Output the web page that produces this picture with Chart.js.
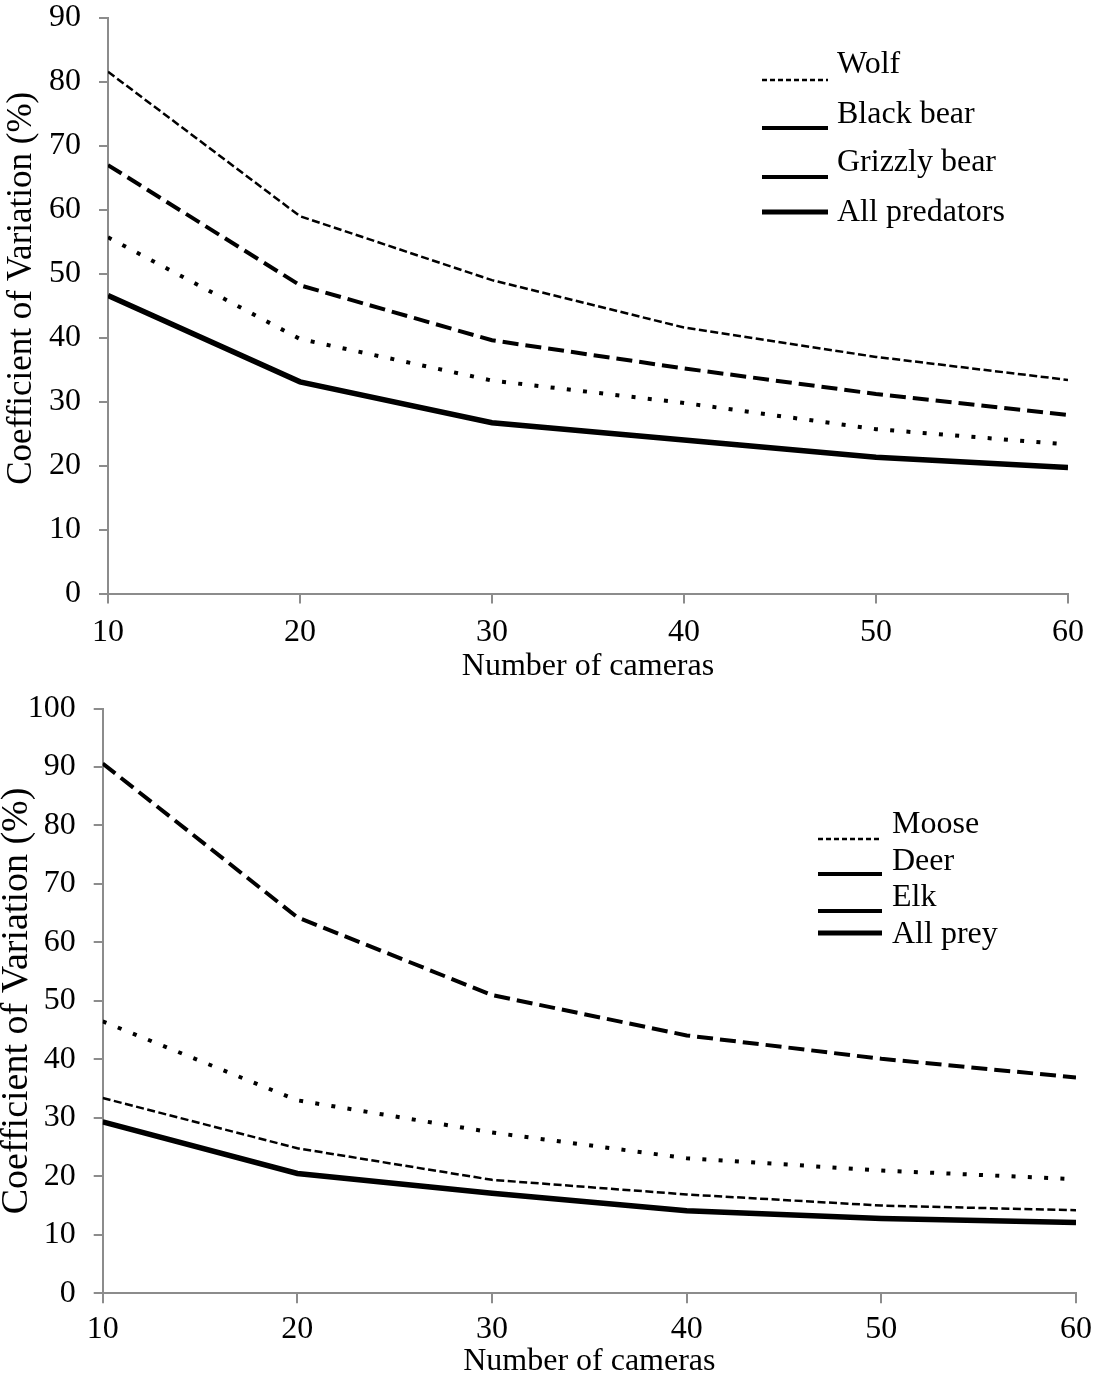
<!DOCTYPE html>
<html>
<head>
<meta charset="utf-8">
<title>Coefficient of variation by number of cameras</title>
<script src="https://cdn.jsdelivr.net/npm/chart.js@4.4.1/dist/chart.umd.min.js"></script>
<style>
    html, body { margin: 0; padding: 0; background: #ffffff; }
    .panel { position: relative; width: 1094px; height: 690px; }
</style>
</head>
<body>
<div class="panel"><canvas id="predatorChart"></canvas></div>
<div class="panel"><canvas id="preyChart"></canvas></div>

<script>
// Number of cameras on the x axis
const cameras = [10, 20, 30, 40, 50, 60];

// Predators - coefficient of variation (%)
const predatorLabels = ['Wolf', 'Black bear', 'Grizzly bear', 'All predators'];
const wolfCV = [81.6, 59.0, 49.0, 41.6, 37.0, 33.4];
const blackBearCV = [67.0, 48.2, 39.6, 35.2, 31.2, 27.9];
const grizzlyBearCV = [55.7, 39.8, 33.3, 29.8, 25.7, 23.3];
const allPredatorsCV = [46.6, 33.1, 26.7, 24.0, 21.3, 19.7];

// Prey - coefficient of variation (%)
const preyLabels = ['Moose', 'Deer', 'Elk', 'All prey'];
const mooseCV = [33.4, 24.8, 19.4, 16.9, 15.0, 14.2];
const deerCV = [90.6, 64.3, 51.0, 44.1, 40.1, 36.9];
const elkCV = [46.5, 33.0, 27.5, 23.1, 21.0, 19.5];
const allPreyCV = [29.3, 20.5, 17.1, 14.1, 12.8, 12.1];

// Axis ticks
const xTicks = [10, 20, 30, 40, 50, 60];
const predatorYTicks = [0, 10, 20, 30, 40, 50, 60, 70, 80, 90];
const preyYTicks = [0, 10, 20, 30, 40, 50, 60, 70, 80, 90, 100];

const FONT = '"Liberation Serif", "Times New Roman", serif';
const AXIS_GREY = '#8c8c8c';

// Line styles, same order in both panels
const lineStyles = [
    { width: 2.5, dash: [8, 3.5] },   // fine dashes
    { width: 4, dash: [16, 7] },      // long dashes
    { width: 4, dash: [4, 12.3] },    // square dots
    { width: 5.5, dash: [] }          // solid
];

function toPoints(values) {
    return values.map((v, i) => ({ x: cameras[i], y: v }));
}

function buildDatasets(labels, series) {
    return series.map((values, i) => ({
        label: labels[i],
        data: toPoints(values),
        borderColor: '#000000',
        borderWidth: lineStyles[i].width,
        borderDash: lineStyles[i].dash,
        borderCapStyle: 'butt',
        borderJoinStyle: 'miter',
        pointRadius: 0,
        tension: 0,
        fill: false
    }));
}

// Legend drawn as text + sample line, rows given in the plugin options
const sampleLegend = {
    id: 'sampleLegend',
    afterDraw(chart, args, opts) {
        const ctx = chart.ctx;
        ctx.save();
        ctx.font = '32px ' + FONT;
        ctx.fillStyle = '#000000';
        ctx.textAlign = 'left';
        ctx.textBaseline = 'middle';
        chart.data.datasets.forEach((ds, i) => {
            const row = opts.rows[i];
            ctx.strokeStyle = '#000000';
            ctx.lineWidth = row.width;
            ctx.lineCap = 'butt';
            ctx.setLineDash(row.dash);
            ctx.beginPath();
            ctx.moveTo(opts.sampleX, row.lineY);
            ctx.lineTo(opts.sampleX + opts.sampleLen, row.lineY);
            ctx.stroke();
            ctx.setLineDash([]);
            ctx.fillText(ds.label, opts.textX, row.textY);
        });
        ctx.restore();
    }
};

function makeChart(canvasId, labels, series, yTicks, layout) {
    const yMax = yTicks[yTicks.length - 1];
    return new Chart(document.getElementById(canvasId), {
        type: 'line',
        data: { datasets: buildDatasets(labels, series) },
        options: {
            responsive: true,
            maintainAspectRatio: false,
            animation: false,
            layout: { padding: layout.padding },
            plugins: {
                legend: { display: false },
                tooltip: { enabled: false },
                sampleLegend: layout.legend
            },
            scales: {
                x: {
                    type: 'linear',
                    min: xTicks[0],
                    max: xTicks[xTicks.length - 1],
                    afterBuildTicks: (scale) => { scale.ticks = xTicks.map(v => ({ value: v })); },
                    afterFit: (scale) => {
                        scale.height = layout.xHeight;
                        scale.paddingLeft = 0;
                        scale.paddingRight = 0;
                    },
                    grid: { drawOnChartArea: false, drawTicks: true, tickLength: 10, color: AXIS_GREY, lineWidth: 2 },
                    border: { display: true, color: AXIS_GREY, width: 2 },
                    ticks: { color: '#000000', font: { family: FONT, size: 32 }, padding: layout.xTickPad, maxRotation: 0 },
                    title: {
                        display: true,
                        text: 'Number of cameras',
                        color: '#000000',
                        font: { family: FONT, size: 32 },
                        padding: { top: 0, bottom: layout.xTitlePad }
                    }
                },
                y: {
                    min: 0,
                    max: yMax,
                    afterBuildTicks: (scale) => { scale.ticks = yTicks.map(v => ({ value: v })); },
                    afterFit: (scale) => {
                        scale.width = layout.yWidth;
                        scale.paddingTop = 0;
                        scale.paddingBottom = 0;
                    },
                    grid: { drawOnChartArea: false, drawTicks: true, tickLength: 9, color: AXIS_GREY, lineWidth: 2 },
                    border: { display: true, color: AXIS_GREY, width: 2 },
                    ticks: { color: '#000000', font: { family: FONT, size: 32 }, padding: 18 },
                    title: {
                        display: true,
                        text: layout.yTitle,
                        color: '#000000',
                        font: { family: FONT, size: layout.yTitleSize, lineHeight: 1 },
                        padding: { top: layout.yTitlePad, bottom: 0 }
                    }
                }
            }
        },
        plugins: [sampleLegend]
    });
}

makeChart('predatorChart', predatorLabels,
    [wolfCV, blackBearCV, grizzlyBearCV, allPredatorsCV], predatorYTicks, {
        padding: { left: 0, top: 18, right: 26, bottom: 0 },
        yWidth: 108,
        xHeight: 96.5,
        xTickPad: 10,
        xTitlePad: 4,
        yTitle: '\u2003Coefficient of Variation (%)',
        yTitleSize: 35,
        yTitlePad: 4.5,
        legend: {
            sampleX: 762, sampleLen: 66, textX: 837,
            rows: [
                { textY: 65, lineY: 80, width: 2.5, dash: [5, 3] },
                { textY: 115, lineY: 128, width: 4, dash: [] },
                { textY: 163, lineY: 177, width: 4, dash: [] },
                { textY: 213, lineY: 212, width: 5, dash: [] }
            ]
        }
    });

makeChart('preyChart', preyLabels,
    [mooseCV, deerCV, elkCV, allPreyCV], preyYTicks, {
        padding: { left: 0, top: 18.5, right: 18, bottom: 0 },
        yWidth: 102.7,
        xHeight: 86.7,
        xTickPad: 7,
        xTitlePad: -1,
        yTitle: 'Coefficient of Variation (%)',
        yTitleSize: 38,
        yTitlePad: -2,
        legend: {
            sampleX: 818, sampleLen: 64, textX: 892,
            rows: [
                { textY: 135, lineY: 149, width: 2.5, dash: [5, 3] },
                { textY: 172, lineY: 184, width: 4, dash: [] },
                { textY: 208, lineY: 221, width: 4, dash: [] },
                { textY: 245, lineY: 243, width: 5, dash: [] }
            ]
        }
    });
</script>
</body>
</html>
